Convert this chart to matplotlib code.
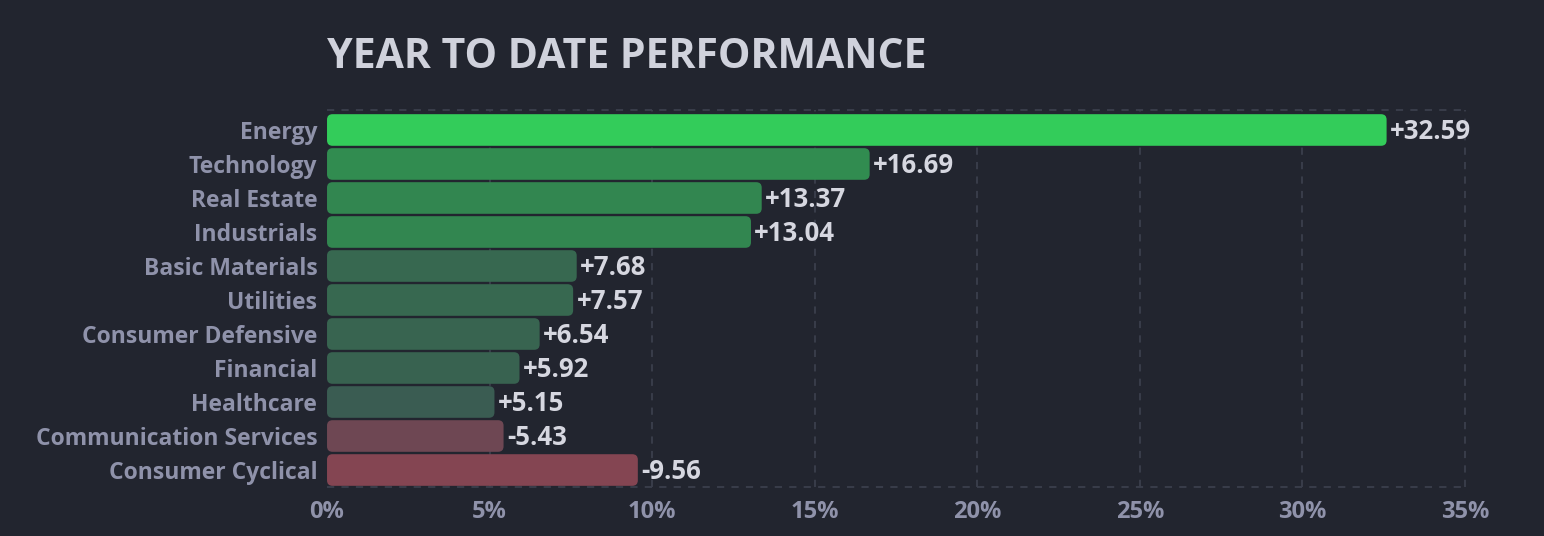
import matplotlib.pyplot as plt
from matplotlib.patches import FancyBboxPatch

BG = "#22252f"
GRID = "#3b3f4c"
LABEL = "#8f92aa"
VALUE = "#d6d7e0"
TITLE = "#d0d2dc"

sectors = ["Energy", "Technology", "Real Estate", "Industrials", "Basic Materials",
           "Utilities", "Consumer Defensive", "Financial", "Healthcare",
           "Communication Services", "Consumer Cyclical"]
ytd = [32.59, 16.69, 13.37, 13.04, 7.68, 7.57, 6.54, 5.92, 5.15, -5.43, -9.56]
bar_colors = ["#33cc5a", "#318c50", "#328650", "#328650", "#376850", "#376850",
              "#386450", "#386250", "#3a5c52", "#6e4753", "#844552"]
xticks = [0, 5, 10, 15, 20, 25, 30, 35]

plt.rcParams["font.family"] = ["Open Sans", "DejaVu Sans"]

fig = plt.figure(figsize=(15.44, 5.36), dpi=100, facecolor=BG)
ax = fig.add_axes([0.2118, 0.0914, 0.737, 0.6978], facecolor=BG)

n = len(sectors)
ax.set_xlim(0, 35)
ax.set_ylim(n - 0.5, -0.5)

# rounded bars, length = absolute change
h = 0.93
for i, (v, c) in enumerate(zip(ytd, bar_colors)):
    w = abs(v)
    ax.add_patch(FancyBboxPatch((0, i - h / 2), w, h,
                                boxstyle="round,pad=0,rounding_size=0.17",
                                mutation_aspect=0.95, fc=c, ec="none", zorder=3))
    ax.text(w + 0.1, i + 0.03, f"{v:+.2f}", va="center", ha="left",
            color=VALUE, fontsize=18.5, fontweight="bold", zorder=4)

ax.set_yticks(range(n))
ax.set_yticklabels(sectors)
ax.set_xticks(xticks)
ax.set_xticklabels([f"{t}%" for t in xticks])
ax.tick_params(axis="y", length=0, pad=7, labelsize=16.5, labelcolor=LABEL)
ax.tick_params(axis="x", length=0, pad=9, labelsize=17, labelcolor=LABEL)
for lbl in ax.get_xticklabels() + ax.get_yticklabels():
    lbl.set_fontweight("bold")

# dashed grid: verticals plus top/bottom frame lines
for t in xticks[1:]:
    ax.plot([t, t], [n - 0.5, -0.59], color=GRID, lw=1.3, ls=(0, (4, 4)),
            zorder=1, clip_on=False)
for y in (-0.59, n - 0.5):
    ax.plot([0, 35], [y, y], color=GRID, lw=1.3, ls=(0, (4, 4)),
            zorder=1, clip_on=False)
for s in ax.spines.values():
    s.set_visible(False)

fig.text(0.2118, 0.893, "YEAR TO DATE PERFORMANCE", ha="left", va="center",
         color=TITLE, fontsize=29.5, fontweight="bold")

fig.savefig("out.png", dpi=100, facecolor=BG)
